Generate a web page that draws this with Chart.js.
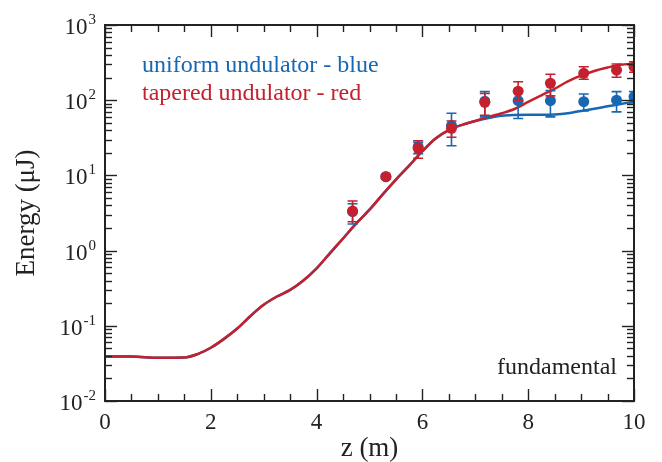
<!DOCTYPE html>
<html>
<head>
<meta charset="utf-8">
<script src="https://cdn.jsdelivr.net/npm/chart.js@4/dist/chart.umd.min.js"></script>
<style>
    html, body { margin: 0; padding: 0; background: #fff; }
</style>
</head>
<body>
<canvas id="energy-chart" width="662" height="462"></canvas>
<script>
// simulated pulse energy along the undulator
const zSim = [0, 0.5, 1.0, 1.5, 1.75, 2.0, 2.25, 2.5, 2.75, 3.0, 3.25, 3.5, 3.75, 4.0, 4.25, 4.5, 4.75,
    5.0, 5.25, 5.5, 5.75, 6.0, 6.25, 6.5, 6.75, 7.0, 7.25, 7.5, 7.75, 8.0, 8.25, 8.5, 8.75, 9.0, 9.25, 9.5, 9.75, 10.0]
const uniformSim = [0.039, 0.039, 0.0375, 0.0378, 0.042, 0.051, 0.067, 0.092, 0.135, 0.19, 0.245, 0.30, 0.40, 0.58, 0.92, 1.45, 2.3,
    3.5, 5.6, 8.8, 13.5, 21, 31, 40, 47, 53, 58, 62, 63.5, 64, 64, 64.5, 67, 72, 77, 83, 89, 96]
const taperedSim = [0.039, 0.039, 0.0375, 0.0378, 0.042, 0.051, 0.067, 0.092, 0.135, 0.19, 0.245, 0.30, 0.40, 0.58, 0.92, 1.45, 2.3,
    3.5, 5.6, 8.8, 13.5, 21, 31, 40, 47, 53, 60, 67, 77, 95, 116, 142, 178, 212, 245, 272, 296, 306]

// measured energies with error bars
const zMeas = [4.68, 5.31, 5.92, 6.55, 7.18, 7.81, 8.42, 9.05, 9.67, 10.0]
const uniformMeas = [3.3, 9.6, 24, 46, 97, 98.5, 98.5, 95.5, 100, 111]
const uniformLow = [2.26, 9.0, 19.5, 24.8, 60, 57, 60, 72, 70, 92]
const uniformHigh = [4.2, 10.3, 27.5, 67, 130, 134, 134, 121, 130, 130]
const taperedMeas = [3.36, 9.6, 22.9, 42.3, 93.8, 132, 168, 228, 251, 279]
const taperedLow = [2.42, 9.1, 16.9, 32.1, 63, 100, 114, 190, 202, 235]
const taperedHigh = [4.57, 10.2, 28.9, 52.8, 123, 176, 221, 279, 303, 325]

const xTicks = [0, 2, 4, 6, 8, 10]
const yDecades = [-2, -1, 0, 1, 2, 3]
const seriesLabels = ['uniform undulator - blue', 'tapered undulator - red']
const noteText = 'fundamental'

const BLUE = '#1768b3'
const RED = '#c5202d'
const INK = '#222'
const SERIF = '"Liberation Serif", "Times New Roman", serif'

const toPoints = (xs, ys) => xs.map((x, i) => ({ x, y: ys[i] }))

const errorBars = {
    id: 'errorBars',
    beforeDatasetDraw(chart, args) {
        const ds = chart.data.datasets[args.index]
        if (!ds.errLow) return
        const { ctx, chartArea: a, scales: { x, y } } = chart
        ctx.save()
        ctx.beginPath()
        ctx.rect(a.left, a.top, a.width, a.height)
        ctx.clip()
        ctx.strokeStyle = ds.borderColor
        ctx.lineWidth = 1.6
        ds.data.forEach((p, i) => {
            const px = x.getPixelForValue(p.x)
            const lo = y.getPixelForValue(ds.errLow[i])
            const hi = y.getPixelForValue(ds.errHigh[i])
            ctx.beginPath()
            ctx.moveTo(px, lo); ctx.lineTo(px, hi)
            ctx.moveTo(px - 5, lo); ctx.lineTo(px + 5, lo)
            ctx.moveTo(px - 5, hi); ctx.lineTo(px + 5, hi)
            ctx.stroke()
        })
        ctx.restore()
    }
}

// box, inward ticks on all four sides, 10^n labels and the text notes
const frame = {
    id: 'frame',
    afterDraw(chart) {
        const { ctx, chartArea: a, scales: { x, y } } = chart
        const seg = (x1, y1, x2, y2) => { ctx.beginPath(); ctx.moveTo(x1, y1); ctx.lineTo(x2, y2); ctx.stroke() }
        ctx.save()
        ctx.strokeStyle = INK
        ctx.lineWidth = 1.4
        for (let v = 0; v <= 10.001; v += 0.5) {
            const px = Math.round(x.getPixelForValue(v)) + 0.5
            const len = Math.abs(v % 2) < 1e-6 ? 12 : 7
            seg(px, a.bottom, px, a.bottom - len)
            seg(px, a.top, px, a.top + len)
        }
        yDecades.forEach(e => {
            for (let m = 1; m <= 9; m++) {
                const v = m * Math.pow(10, e)
                if (v > 1000.001) break
                const py = Math.round(y.getPixelForValue(v)) + 0.5
                const len = m === 1 ? 12 : 7
                seg(a.left, py, a.left + len, py)
                seg(a.right, py, a.right - len, py)
            }
        })
        ctx.lineWidth = 2
        ctx.strokeRect(a.left, a.top, a.width, a.height)

        // decade labels
        ctx.fillStyle = INK
        ctx.textBaseline = 'alphabetic'
        yDecades.forEach(e => {
            const py = y.getPixelForValue(Math.pow(10, e))
            const exp = String(e)
            ctx.font = `15px ${SERIF}`
            const ew = ctx.measureText(exp).width
            const right = 96
            ctx.textAlign = 'left'
            ctx.fillText(exp, right - ew, py - 1)
            ctx.font = `23px ${SERIF}`
            ctx.textAlign = 'right'
            ctx.fillText('10', right - ew - 1, py + 9)
        })

        // series labels
        ctx.font = `24px ${SERIF}`
        ctx.textAlign = 'left'
        ctx.fillStyle = BLUE
        ctx.fillText(seriesLabels[0], 142, 72)
        ctx.fillStyle = RED
        ctx.fillText(seriesLabels[1], 142, 100)
        ctx.fillStyle = INK
        ctx.textAlign = 'right'
        ctx.fillText(noteText, 617, 374)
        ctx.restore()
    }
}

new Chart(document.getElementById('energy-chart'), {
    type: 'scatter',
    data: {
        datasets: [
            {
                label: seriesLabels[1],
                data: toPoints(zMeas, taperedMeas),
                errLow: taperedLow,
                errHigh: taperedHigh,
                borderColor: RED,
                backgroundColor: RED,
                pointRadius: 5.5,
                pointBorderWidth: 0,
                clip: 0,
                order: 1
            },
            {
                label: seriesLabels[0],
                data: toPoints(zMeas, uniformMeas),
                errLow: uniformLow,
                errHigh: uniformHigh,
                borderColor: BLUE,
                backgroundColor: BLUE,
                pointRadius: 5.5,
                pointBorderWidth: 0,
                clip: 0,
                order: 2
            },
            {
                label: seriesLabels[1] + ' (sim)',
                data: toPoints(zSim, taperedSim),
                showLine: true,
                borderColor: RED,
                borderWidth: 2.5,
                pointRadius: 0,
                cubicInterpolationMode: 'monotone',
                clip: 0,
                order: 3
            },
            {
                label: seriesLabels[0] + ' (sim)',
                data: toPoints(zSim, uniformSim),
                showLine: true,
                borderColor: BLUE,
                borderWidth: 2.5,
                pointRadius: 0,
                cubicInterpolationMode: 'monotone',
                clip: 0,
                order: 4
            }
        ]
    },
    options: {
        responsive: false,
        animation: false,
        devicePixelRatio: 1,
        layout: { padding: { top: 25, right: 28, left: 0, bottom: 0 } },
        plugins: {
            legend: { display: false },
            tooltip: { enabled: false }
        },
        scales: {
            x: {
                type: 'linear',
                min: 0,
                max: 10,
                grid: { display: false, drawTicks: false },
                border: { display: false },
                afterBuildTicks: scale => { scale.ticks = xTicks.map(value => ({ value })) },
                ticks: { color: INK, font: { family: SERIF, size: 23 }, padding: 8, maxRotation: 0 },
                title: { display: true, text: 'z (m)', color: INK, font: { family: SERIF, size: 27, lineHeight: 1 }, padding: 0 },
                afterFit: scale => { scale.height = 61 }
            },
            y: {
                type: 'logarithmic',
                min: 0.01,
                max: 1000,
                grid: { display: false, drawTicks: false },
                border: { display: false },
                ticks: { display: false },
                title: { display: true, text: 'Energy (μJ)', color: INK, font: { family: SERIF, size: 27, lineHeight: 1 }, padding: { top: 13 } },
                afterFit: scale => { scale.width = 105 }
            }
        }
    },
    plugins: [errorBars, frame]
})
</script>
</body>
</html>
